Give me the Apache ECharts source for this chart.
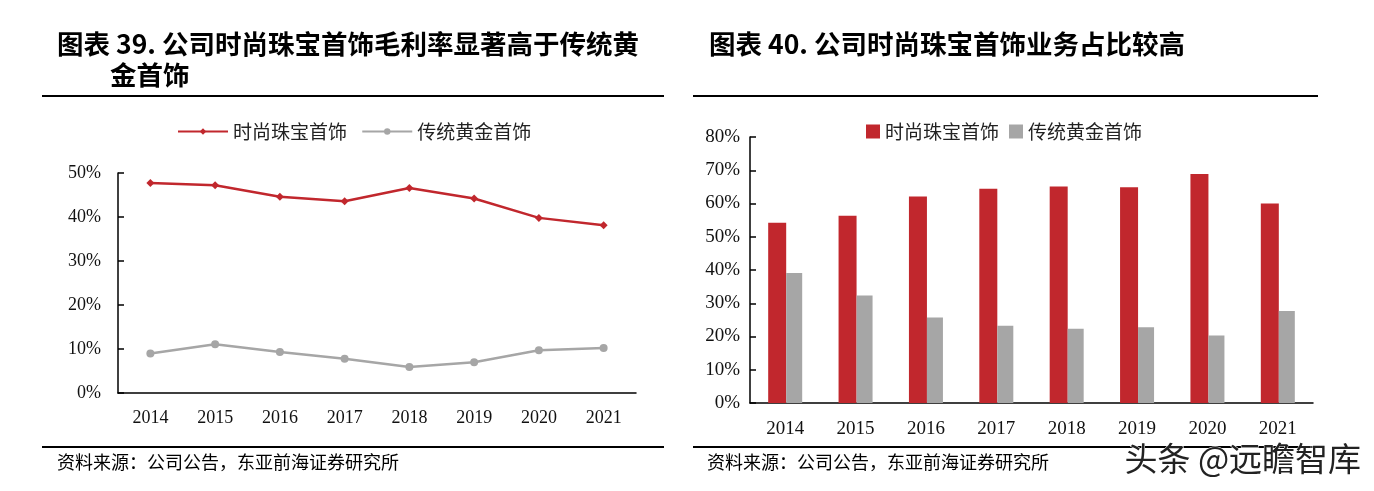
<!DOCTYPE html>
<html>
<head>
<meta charset="utf-8">
<script src="https://cdn.jsdelivr.net/npm/echarts@6/dist/echarts.min.js"></script>
<style>
html,body{margin:0;padding:0;background:#fff;}
#c{width:1374px;height:491px;}
</style>
</head>
<body>
<div id="c"></div>
<script>
var years = ['2014','2015','2016','2017','2018','2019','2020','2021'];
var seriesNames = ['时尚珠宝首饰','传统黄金首饰'];
// 毛利率 (%)
var marginFashion = [47.7, 47.2, 44.6, 43.6, 46.6, 44.2, 39.8, 38.1];
var marginGold = [9.0, 11.1, 9.3, 7.8, 5.9, 7.0, 9.7, 10.2];
// 业务占比 (%)
var shareFashion = [54.2, 56.3, 62.1, 64.4, 65.1, 64.9, 68.9, 60.0];
var shareGold = [39.1, 32.3, 25.7, 23.2, 22.3, 22.8, 20.3, 27.7];

var RED = '#c1272d', GRAY = '#a6a6a6';
var serif = '"Liberation Serif","DejaVu Serif",serif';
var cjk = '"Noto Sans CJK SC","Noto Sans",sans-serif';

var chart = echarts.init(document.getElementById('c'));

function yAx(gi, max, margin, fs){
  return {
    gridIndex: gi, type: 'value', min: 0, max: max, interval: 10,
    axisLine: {show: true, lineStyle: {color: '#000', width: 1.5}},
    axisTick: {show: true, inside: true, length: 6, lineStyle: {color: '#000', width: 1.5}},
    splitLine: {show: false},
    axisLabel: {formatter: '{value}%', color: '#111', fontFamily: serif, fontSize: fs, margin: margin}
  };
}
function xAx(gi, margin, fs){
  return {
    gridIndex: gi, type: 'category', data: years, boundaryGap: true,
    axisLine: {show: true, lineStyle: {color: '#000', width: 1.5}},
    axisTick: {show: false},
    axisLabel: {color: '#111', fontFamily: serif, fontSize: fs, margin: margin}
  };
}

var option = {
  animation: false,
  backgroundColor: '#fff',
  grid: [
    {left: 118, top: 173, width: 518, height: 220},
    {left: 750, top: 137, width: 563, height: 266}
  ],
  xAxis: [xAx(0, 16, 18), xAx(1, 17, 19)],
  yAxis: [yAx(0, 50, 17, 18), yAx(1, 80, 10, 19)],
  legend: [
    {
      left: 172, top: 117, itemWidth: 50, itemHeight: 8, itemGap: 10,
      data: [seriesNames[0] + ' ', seriesNames[1] + ' '],
      textStyle: {fontFamily: cjk, fontSize: 19, color: '#222'}
    },
    {
      left: 861, top: 117, itemWidth: 14, itemHeight: 14, itemGap: 10, icon: 'rect',
      data: [seriesNames[0], seriesNames[1]],
      textStyle: {fontFamily: cjk, fontSize: 19, color: '#222'}
    }
  ],
  series: [
    {
      name: seriesNames[0] + ' ', type: 'line', xAxisIndex: 0, yAxisIndex: 0,
      data: marginFashion, symbol: 'diamond', symbolSize: 8, color: RED,
      lineStyle: {width: 2.5, color: RED}, itemStyle: {color: RED}
    },
    {
      name: seriesNames[1] + ' ', type: 'line', xAxisIndex: 0, yAxisIndex: 0,
      data: marginGold, symbol: 'circle', symbolSize: 8, color: GRAY,
      lineStyle: {width: 2.5, color: GRAY}, itemStyle: {color: GRAY}
    },
    {
      name: seriesNames[0], type: 'bar', xAxisIndex: 1, yAxisIndex: 1,
      data: shareFashion, barWidth: 18, barGap: '0%', color: RED, itemStyle: {color: RED}
    },
    {
      name: seriesNames[1], type: 'bar', xAxisIndex: 1, yAxisIndex: 1,
      data: shareGold, barWidth: 16, barGap: '0%', color: GRAY, itemStyle: {color: GRAY}
    }
  ],
  graphic: [
    {type: 'text', left: 57, top: 31, style: {text: '图表 39. 公司时尚珠宝首饰毛利率显著高于传统黄', fontFamily: cjk, fontWeight: 'bold', fontSize: 26.5, fill: '#000'}},
    {type: 'text', left: 110, top: 62, style: {text: '金首饰', fontFamily: cjk, fontWeight: 'bold', fontSize: 26.5, fill: '#000'}},
    {type: 'text', left: 709, top: 31, style: {text: '图表 40. 公司时尚珠宝首饰业务占比较高', fontFamily: cjk, fontWeight: 'bold', fontSize: 26.5, fill: '#000'}},
    {type: 'line', shape: {x1: 42, y1: 96, x2: 664, y2: 96}, style: {stroke: '#000', lineWidth: 2}},
    {type: 'line', shape: {x1: 693, y1: 96, x2: 1318, y2: 96}, style: {stroke: '#000', lineWidth: 2}},
    {type: 'line', shape: {x1: 42, y1: 447, x2: 664, y2: 447}, style: {stroke: '#000', lineWidth: 2}},
    {type: 'line', shape: {x1: 693, y1: 447, x2: 1318, y2: 447}, style: {stroke: '#000', lineWidth: 2}},
    {type: 'text', left: 57, top: 453, style: {text: '资料来源：公司公告，东亚前海证券研究所', fontFamily: cjk, fontSize: 18, fill: '#000'}},
    {type: 'text', left: 707, top: 453, style: {text: '资料来源：公司公告，东亚前海证券研究所', fontFamily: cjk, fontSize: 18, fill: '#000'}},
    {type: 'text', left: 1124, top: 441, style: {text: '头条 @远瞻智库', fontFamily: cjk, fontSize: 33, fill: '#222', stroke: '#fff', lineWidth: 1}}
  ]
};
chart.setOption(option);
</script>
</body>
</html>
